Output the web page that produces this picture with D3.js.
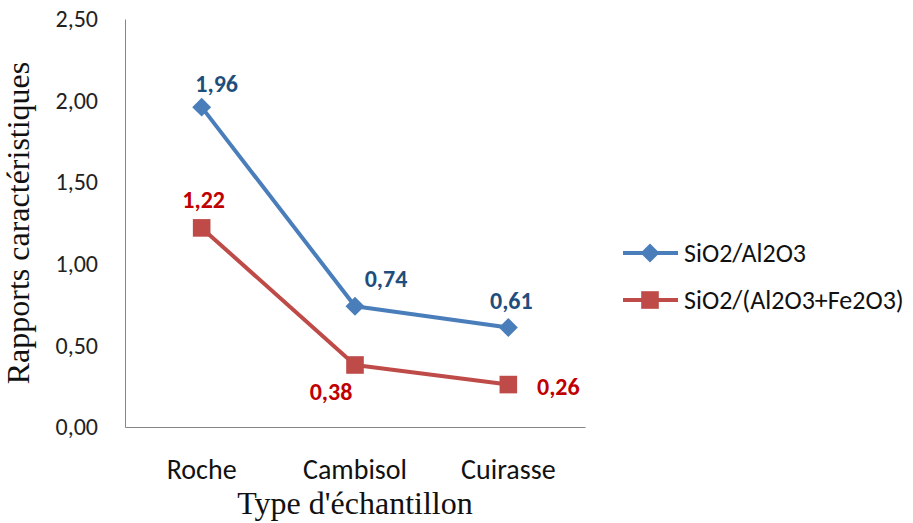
<!DOCTYPE html>
<html><head><meta charset="utf-8">
<script src="https://cdn.jsdelivr.net/npm/d3@7"></script>
<style>body{margin:0;background:#fff}svg{display:block}</style>
</head><body><svg id="c" width="913" height="523"></svg>
<script>
const categories = ["Roche", "Cambisol", "Cuirasse"];
const seriesNames = ["SiO2/Al2O3", "SiO2/(Al2O3+Fe2O3)"];
const siAl = [1.96, 0.74, 0.61];
const siAlFe = [1.22, 0.38, 0.26];
const yTicks = [0, 0.5, 1, 1.5, 2, 2.5];

// label placement offsets (layout only)
const labelOffsets = [
  [[15, -24], [31, -28], [3, -27]],
  [[2, -28], [-24, 27], [50, 2]]
];

const svg = d3.select("#c");
const m = {l: 125, r: 328, t: 19, b: 96};
const W = 913, H = 523;
const x = d3.scaleBand().domain(categories).range([m.l, W - m.r]);
const y = d3.scaleLinear().domain([0, 2.5]).range([H - m.b, m.t]);
const fmt = v => d3.format(".2f")(v).replace(".", ",");

const axisColor = "#868686";
const sans = "Carlito, Lato, 'Open Sans', sans-serif";
const serif = "'Liberation Serif', 'DejaVu Serif', serif";

// Y axis
const ya = svg.append("g").attr("transform", `translate(${m.l},0)`)
  .call(d3.axisLeft(y).tickValues(yTicks).tickSize(0).tickPadding(27).tickFormat(fmt));
ya.select(".domain").attr("stroke", axisColor).attr("stroke-width", 1);
ya.selectAll("text").attr("font-family", sans).attr("font-size", 24).attr("fill", "#222");

// X axis
const xa = svg.append("g").attr("transform", `translate(0,${H - m.b})`)
  .call(d3.axisBottom(x).tickSize(0));
xa.select(".domain").attr("stroke", axisColor).attr("stroke-width", 1);
xa.selectAll("text").attr("y", 52).attr("dy", 0)
  .attr("font-family", sans).attr("font-size", 28).attr("fill", "#111");

// Axis titles
svg.append("text").attr("transform", `translate(29,${(m.t + H - m.b) / 2}) rotate(-90)`)
  .attr("text-anchor", "middle").attr("font-family", serif).attr("font-size", 32).attr("fill", "#111")
  .text("Rapports caractéristiques");
svg.append("text").attr("x", (m.l + W - m.r) / 2).attr("y", 514)
  .attr("text-anchor", "middle").attr("font-family", serif).attr("font-size", 32).attr("fill", "#111")
  .text("Type d'échantillon");

const diamond = {draw(ctx, size) { const r = Math.sqrt(size / 2); ctx.moveTo(0, -r); ctx.lineTo(r, 0); ctx.lineTo(0, r); ctx.lineTo(-r, 0); ctx.closePath(); }};

const series = [
  {name: seriesNames[0], values: siAl, color: "#4A7EBB", label: "#1F4E7D", shape: diamond, size: 180},
  {name: seriesNames[1], values: siAlFe, color: "#BE4B48", label: "#C00000", shape: d3.symbolSquare, size: 310}
];

const cx = i => x(categories[i]) + x.bandwidth() / 2;
const line = d3.line().x((d, i) => cx(i)).y(d => y(d));

series.forEach((s, si) => {
  const g = svg.append("g");
  g.append("path").datum(s.values).attr("d", line).attr("fill", "none")
    .attr("stroke", s.color).attr("stroke-width", 4).attr("stroke-linejoin", "round");
  g.selectAll("path.pt").data(s.values).join("path").attr("class", "pt")
    .attr("d", d3.symbol().type(s.shape).size(s.size))
    .attr("transform", (d, i) => `translate(${cx(i)},${y(d)})`)
    .attr("fill", s.color);
  g.selectAll("text").data(s.values).join("text")
    .attr("x", (d, i) => cx(i) + labelOffsets[si][i][0])
    .attr("y", (d, i) => y(d) + labelOffsets[si][i][1])
    .attr("dy", "0.35em").attr("text-anchor", "middle")
    .attr("font-family", sans).attr("font-weight", "bold").attr("font-size", 24)
    .attr("fill", s.label).text(fmt);
});

// Legend
const lg = svg.append("g");
series.forEach((s, i) => {
  const yy = 253 + i * 47;
  lg.append("line").attr("x1", 623).attr("x2", 678).attr("y1", yy).attr("y2", yy)
    .attr("stroke", s.color).attr("stroke-width", 4);
  lg.append("path").attr("d", d3.symbol().type(s.shape).size(s.size)())
    .attr("transform", `translate(650,${yy})`).attr("fill", s.color);
  lg.append("text").attr("x", 684).attr("y", yy).attr("dy", "0.35em")
    .attr("font-family", sans).attr("font-size", 26).attr("fill", "#111").text(s.name);
});
</script></body></html>
